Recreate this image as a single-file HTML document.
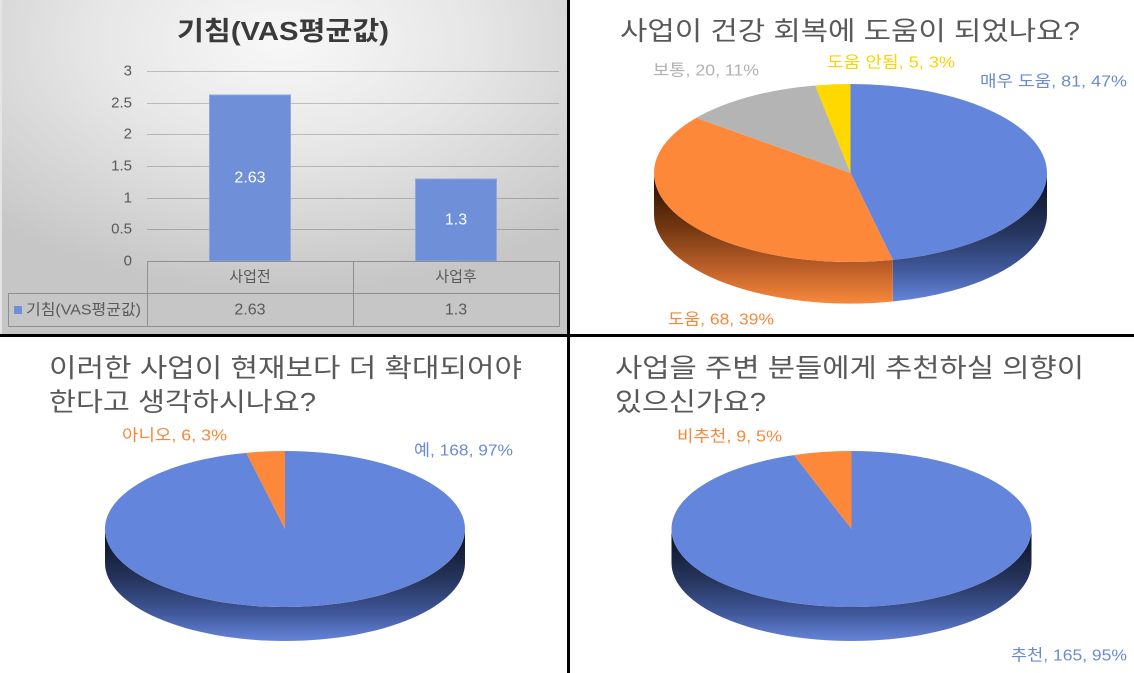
<!DOCTYPE html>
<html>
<head>
<meta charset="utf-8">
<style>
html,body{margin:0;padding:0;background:#fff;}
svg{display:block;}
text{font-family:"Liberation Sans","Noto Sans CJK KR",sans-serif;}
</style>
</head>
<body>
<svg width="1134" height="673" viewBox="0 0 1134 673" xmlns="http://www.w3.org/2000/svg">
<defs>
  <radialGradient id="bg" cx="0.5" cy="0.12" r="0.75" fx="0.5" fy="0.12">
    <stop offset="0" stop-color="#f8f8f8"/>
    <stop offset="0.45" stop-color="#e6e6e6"/>
    <stop offset="1" stop-color="#c6c6c6"/>
  </radialGradient>
  <linearGradient id="gB1" gradientUnits="userSpaceOnUse" x1="0" y1="173" x2="0" y2="302">
    <stop offset="0" stop-color="#0a0f1e"/>
    <stop offset="0.45" stop-color="#26355e"/>
    <stop offset="0.75" stop-color="#41599c"/>
    <stop offset="1" stop-color="#6686dc"/>
  </linearGradient>
  <linearGradient id="gO1" gradientUnits="userSpaceOnUse" x1="0" y1="173" x2="0" y2="302">
    <stop offset="0" stop-color="#1e0c02"/>
    <stop offset="0.45" stop-color="#7a3a12"/>
    <stop offset="0.75" stop-color="#c0612a"/>
    <stop offset="1" stop-color="#f5873a"/>
  </linearGradient>
  <linearGradient id="gB2" gradientUnits="userSpaceOnUse" x1="0" y1="529" x2="0" y2="642">
    <stop offset="0" stop-color="#0a0f1e"/>
    <stop offset="0.45" stop-color="#26355e"/>
    <stop offset="0.75" stop-color="#41599c"/>
    <stop offset="1" stop-color="#6686dc"/>
  </linearGradient>
</defs>

<!-- Top-left panel background -->
<rect x="0" y="0" width="567" height="334" fill="url(#bg)"/>
<rect x="0" y="0" width="2" height="334" fill="#e4e4e4"/>

<!-- Bar chart title -->
<text x="177" y="31" font-size="26" font-weight="bold" fill="#3a3a3a" dominant-baseline="central" textLength="212" lengthAdjust="spacingAndGlyphs">기침(VAS평균값)</text>

<!-- gridlines -->
<g stroke="#000" stroke-opacity="0.2" stroke-width="1">
  <line x1="147" y1="71.5" x2="559" y2="71.5"/>
  <line x1="147" y1="103.5" x2="559" y2="103.5"/>
  <line x1="147" y1="134.5" x2="559" y2="134.5"/>
  <line x1="147" y1="166.5" x2="559" y2="166.5"/>
  <line x1="147" y1="198.5" x2="559" y2="198.5"/>
  <line x1="147" y1="229.5" x2="559" y2="229.5"/>
</g>

<!-- y labels -->
<g font-size="15" fill="#595959" text-anchor="end" dominant-baseline="central">
  <text x="132" y="71">3</text>
  <text x="132" y="103">2.5</text>
  <text x="132" y="134">2</text>
  <text x="132" y="166">1.5</text>
  <text x="132" y="198">1</text>
  <text x="132" y="229">0.5</text>
  <text x="132" y="261">0</text>
</g>

<!-- bars -->
<rect x="209.5" y="95" width="81" height="166" fill="#6f8fd9" stroke="#8ea6e2" stroke-width="1"/>
<rect x="415.5" y="179" width="81" height="82" fill="#6f8fd9" stroke="#8ea6e2" stroke-width="1"/>
<text x="250" y="178" font-size="16" fill="#ffffff" text-anchor="middle" dominant-baseline="central">2.63</text>
<text x="456" y="220" font-size="16" fill="#ffffff" text-anchor="middle" dominant-baseline="central">1.3</text>

<!-- data table -->
<g stroke="#8f8f8f" stroke-width="1" fill="none">
  <line x1="147" y1="261.5" x2="559" y2="261.5"/>
  <line x1="8" y1="293.5" x2="559" y2="293.5"/>
  <line x1="8" y1="326.5" x2="559" y2="326.5"/>
  <line x1="147.5" y1="261" x2="147.5" y2="327"/>
  <line x1="353.5" y1="261" x2="353.5" y2="327"/>
  <line x1="559.5" y1="261" x2="559.5" y2="327"/>
  <line x1="8.5" y1="293" x2="8.5" y2="327"/>
</g>
<g font-size="15" fill="#595959" text-anchor="middle" dominant-baseline="central">
  <text x="250" y="277">사업전</text>
  <text x="456" y="277">사업후</text>
  <text x="250" y="310" font-size="16">2.63</text>
  <text x="456" y="310" font-size="16">1.3</text>
</g>
<rect x="14" y="306" width="8" height="8" fill="#6f8fd9"/>
<text x="26" y="310" font-size="15" fill="#595959" dominant-baseline="central" textLength="115" lengthAdjust="spacingAndGlyphs">기침(VAS평균값)</text>

<!-- Top-right pie -->
<text x="620" y="31" font-size="26" fill="#595959" dominant-baseline="central" textLength="460" lengthAdjust="spacingAndGlyphs">사업이 건강 회복에 도움이 되었나요?</text>
<path d="M1047 173 A196.5 89 0 0 1 892.74 259.92 L892.74 301.5 A196.5 89 0 0 0 1047 214 Z" fill="url(#gB1)"/>
<path d="M892.74 259.92 A196.5 89 0 0 1 654 173 L654 214 A196.5 89 0 0 0 892.74 301.5 Z" fill="url(#gO1)"/>
<path d="M850.5 173 L850.5 84 A196.5 89 0 0 1 892.74 259.92 Z" fill="#6386dc"/>
<path d="M850.5 173 L892.74 259.92 A196.5 89 0 0 1 696.24 117.87 Z" fill="#fd883a"/>
<path d="M850.5 173 L696.24 117.87 A196.5 89 0 0 1 815.21 85.45 Z" fill="#b4b4b4"/>
<path d="M850.5 173 L815.21 85.45 A196.5 89 0 0 1 850.5 84 Z" fill="#ffd800"/>
<g font-size="16" dominant-baseline="central">
  <text x="653" y="71" fill="#b0b0b0" textLength="106" lengthAdjust="spacingAndGlyphs">보통, 20, 11%</text>
  <text x="827" y="63" fill="#ffd200" textLength="128" lengthAdjust="spacingAndGlyphs">도움 안됨, 5, 3%</text>
  <text x="980" y="82" fill="#6a8ad8" textLength="147" lengthAdjust="spacingAndGlyphs">매우 도움, 81, 47%</text>
  <text x="668" y="320" fill="#f5873a" textLength="106" lengthAdjust="spacingAndGlyphs">도움, 68, 39%</text>
</g>

<!-- Bottom-left pie -->
<text x="49" y="368" font-size="26" fill="#595959" dominant-baseline="central" textLength="473" lengthAdjust="spacingAndGlyphs">이러한 사업이 현재보다 더 확대되어야</text>
<text x="49" y="402" font-size="26" fill="#595959" dominant-baseline="central" textLength="267" lengthAdjust="spacingAndGlyphs">한다고 생각하시나요?</text>
<path d="M465 529 A180 78 0 0 1 105 529 L105 563 A180 78 0 0 0 465 563 Z" fill="url(#gB2)"/>
<path d="M285 529 L285 451 A180 78 0 1 1 246.30 452.82 Z" fill="#6386dc"/>
<path d="M285 529 L246.30 452.82 A180 78 0 0 1 285 451 Z" fill="#fd883a"/>
<g font-size="16" dominant-baseline="central">
  <text x="122" y="436" fill="#f5873a" textLength="105" lengthAdjust="spacingAndGlyphs">아니오, 6, 3%</text>
  <text x="414" y="451" fill="#6a8ad8" textLength="99" lengthAdjust="spacingAndGlyphs">예, 168, 97%</text>
</g>

<!-- Bottom-right pie -->
<text x="615" y="368" font-size="26" fill="#595959" dominant-baseline="central" textLength="469" lengthAdjust="spacingAndGlyphs">사업을 주변 분들에게 추천하실 의향이</text>
<text x="615" y="402" font-size="26" fill="#595959" dominant-baseline="central" textLength="151" lengthAdjust="spacingAndGlyphs">있으신가요?</text>
<path d="M1031.5 529 A180 78 0 0 1 671.5 529 L671.5 563 A180 78 0 0 0 1031.5 563 Z" fill="url(#gB2)"/>
<path d="M851.5 529 L851.5 451 A180 78 0 1 1 794.03 455.08 Z" fill="#6386dc"/>
<path d="M851.5 529 L794.03 455.08 A180 78 0 0 1 851.5 451 Z" fill="#fd883a"/>
<g font-size="16" dominant-baseline="central">
  <text x="677" y="437" fill="#f5873a" textLength="105" lengthAdjust="spacingAndGlyphs">비추천, 9, 5%</text>
  <text x="1011" y="656" fill="#6a8ad8" textLength="116" lengthAdjust="spacingAndGlyphs">추천, 165, 95%</text>
</g>

<!-- dividers -->
<rect x="0" y="334" width="1134" height="3" fill="#000"/>
<rect x="567" y="0" width="3" height="673" fill="#000"/>
</svg>
</body>
</html>
